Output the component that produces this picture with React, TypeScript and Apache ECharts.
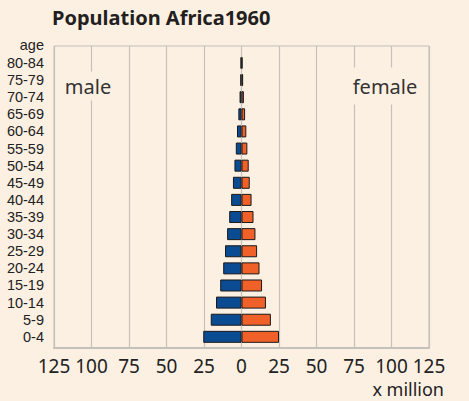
import React, { useEffect, useRef } from "react";
import * as echarts from "echarts";

const ages = ["0-4", "5-9", "10-14", "15-19", "20-24", "25-29", "30-34", "35-39", "40-44", "45-49", "50-54", "55-59", "60-64", "65-69", "70-74", "75-79", "80-84"];
const male = [25.5, 20.5, 17, 14.2, 12.2, 11, 9.6, 8.2, 6.9, 5.7, 4.7, 3.8, 3.0, 2.1, 1.3, 0.8, 0.6];
const female = [25, 19.6, 16.3, 13.7, 12, 10.4, 9.3, 8, 6.7, 5.5, 4.8, 3.9, 3.2, 2.4, 1.6, 1.1, 0.7];
const xTicks = { min: -125, max: 125, interval: 25 };

const BG = "#fcf0e2";
const GRID = "#c4c0bb";
const FONT = "Noto Sans";
const LABEL_FONT = "Liberation Sans";

export default function App() {
  const ref = useRef<HTMLDivElement>(null);
  useEffect(() => {
    document.body.style.margin = "0";
    const chart = echarts.init(ref.current!, null, { renderer: "svg" });
    chart.setOption({
      animation: false,
      backgroundColor: BG,
      textStyle: { fontFamily: FONT },
      title: {
        text: "Population Africa1960",
        left: 52,
        top: 7,
        padding: 0,
        textStyle: { fontSize: 20, fontWeight: "bold", color: "#231f20", fontFamily: FONT },
      },
      grid: [
        { left: 54, top: 46, width: 375, height: 302, show: true, borderColor: GRID, borderWidth: 1, backgroundColor: "transparent" },
        { left: 54, top: 54.4, width: 375, height: 291 },
      ],
      xAxis: [
        {
          gridIndex: 0,
          type: "value",
          min: xTicks.min,
          max: xTicks.max,
          interval: xTicks.interval,
          axisLine: { show: true, onZero: false, lineStyle: { color: GRID, width: 2 } },
          axisTick: { show: false },
          splitLine: { show: true, lineStyle: { color: GRID, width: 1.2 } },
          axisLabel: { formatter: (v: number) => String(Math.abs(v)), fontSize: 19, color: "#222", margin: 8, fontFamily: FONT },
        },
        { gridIndex: 1, type: "value", min: xTicks.min, max: xTicks.max, show: false },
      ],
      yAxis: [
        { gridIndex: 0, type: "value", min: 0, max: 1, show: false },
        {
          gridIndex: 1,
          type: "category",
          data: ages,
          axisLine: { show: false },
          axisTick: { show: false },
          splitLine: { show: false },
          axisLabel: { interval: 0, fontSize: 14.5, lineHeight: 15, color: "#222", margin: 10, fontFamily: LABEL_FONT },
        },
      ],
      series: [
        {
          name: "male",
          type: "bar",
          xAxisIndex: 1,
          yAxisIndex: 1,
          stack: "pop",
          barWidth: 12,
          data: male.map((v) => -v),
          itemStyle: { color: "#0b4b92", borderColor: "#1a1a1a", borderWidth: 1 },
        },
        {
          name: "female",
          type: "bar",
          xAxisIndex: 1,
          yAxisIndex: 1,
          stack: "pop",
          barWidth: 12,
          data: female,
          itemStyle: { color: "#f0612a", borderColor: "#1a1a1a", borderWidth: 1 },
        },
      ],
      graphic: [
        { type: "text", x: 44, y: 45, style: { text: "age", align: "right", verticalAlign: "middle", fontSize: 14.5, lineHeight: 15, fill: "#222", fontFamily: LABEL_FONT } },
        { type: "text", x: 88, y: 86, z: 10, style: { text: "male", align: "center", verticalAlign: "middle", fontSize: 20, fill: "#333", fontFamily: FONT, backgroundColor: BG, padding: [4, 3, 5, 3] } },
        { type: "text", x: 385, y: 86, z: 10, style: { text: "female", align: "center", verticalAlign: "middle", fontSize: 20, fill: "#333", fontFamily: FONT, backgroundColor: BG, padding: [12, 3, 5, 3] } },
        { type: "text", x: 444, y: 389, style: { text: "x million", align: "right", verticalAlign: "middle", fontSize: 18, fill: "#222", fontFamily: FONT } },
      ],
    });
    return () => chart.dispose();
  }, []);
  return <div ref={ref} style={{ width: 469, height: 401 }} />;
}
